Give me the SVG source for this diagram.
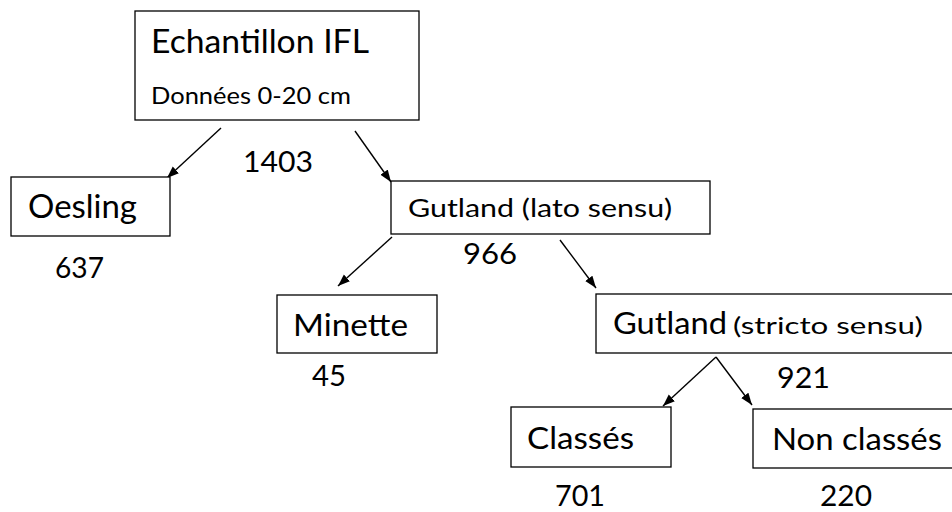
<svg xmlns="http://www.w3.org/2000/svg" width="952" height="512" viewBox="0 0 952 512">
<defs>
<style>
.box{fill:#fff;stroke:#000;stroke-width:1.3}
.t{font-family:Lato,"Open Sans","Liberation Sans",sans-serif;fill:#000}
.edge{stroke:#000;stroke-width:1.4;fill:none;marker-end:url(#ah)}
</style>
<marker id="ah" viewBox="0 0 12 10" refX="12" refY="5" markerWidth="12" markerHeight="10" markerUnits="userSpaceOnUse" orient="auto">
<path d="M0,0.5 L12,5 L0,9.5 z" fill="#000"/>
</marker>
</defs>
<rect width="952" height="512" fill="#fff"/>
<g id="connectors">
<line class="edge" x1="221" y1="128" x2="167" y2="178"/>
<line class="edge" x1="355" y1="131" x2="391" y2="182"/>
<line class="edge" x1="392" y1="237" x2="338" y2="286"/>
<line class="edge" x1="560" y1="240" x2="596" y2="288"/>
<line class="edge" x1="716" y1="357" x2="663" y2="406"/>
<line class="edge" x1="716" y1="357" x2="752" y2="405"/>
</g>
<g id="n_echantillon">
<rect class="box" x="135" y="11" width="284" height="109"/>
<text class="t" x="151" y="53" font-size="33" textLength="218" lengthAdjust="spacingAndGlyphs">Echantillon IFL</text>
<text class="t" x="151" y="104" font-size="23" textLength="200" lengthAdjust="spacingAndGlyphs">Données 0-20 cm</text>
</g>
<text class="t" x="243" y="172" font-size="29" textLength="70" lengthAdjust="spacingAndGlyphs">1403</text>
<g id="n_oesling">
<rect class="box" x="11" y="177" width="159" height="59"/>
<text class="t" x="28" y="218" font-size="32" textLength="109" lengthAdjust="spacingAndGlyphs">Oesling</text>
</g>
<text class="t" x="55" y="278" font-size="29" textLength="49" lengthAdjust="spacingAndGlyphs">637</text>
<g id="n_gutland_lato">
<rect class="box" x="391" y="181" width="319" height="53"/>
<text class="t" x="408" y="217" font-size="25" textLength="264" lengthAdjust="spacingAndGlyphs">Gutland (lato sensu)</text>
</g>
<text class="t" x="463" y="264" font-size="29" textLength="54" lengthAdjust="spacingAndGlyphs">966</text>
<g id="n_minette">
<rect class="box" x="277" y="295" width="160" height="58"/>
<text class="t" x="293" y="336" font-size="31" textLength="115" lengthAdjust="spacingAndGlyphs">Minette</text>
</g>
<text class="t" x="312" y="386" font-size="29" textLength="34" lengthAdjust="spacingAndGlyphs">45</text>
<g id="n_gutland_stricto">
<rect class="box" x="596" y="294" width="370" height="59"/>
<text class="t" x="613" y="334" font-size="30" textLength="114" lengthAdjust="spacingAndGlyphs">Gutland</text>
<text class="t" x="733" y="334" font-size="24" textLength="190" lengthAdjust="spacingAndGlyphs">(stricto sensu)</text>
</g>
<text class="t" x="777" y="388" font-size="29" textLength="53" lengthAdjust="spacingAndGlyphs">921</text>
<g id="n_classes">
<rect class="box" x="511" y="407" width="160" height="60"/>
<text class="t" x="527" y="449" font-size="31" textLength="107" lengthAdjust="spacingAndGlyphs">Classés</text>
</g>
<text class="t" x="555" y="506" font-size="29" textLength="50" lengthAdjust="spacingAndGlyphs">701</text>
<g id="n_non_classes">
<rect class="box" x="753" y="409" width="220" height="59"/>
<text class="t" x="772" y="450" font-size="31" textLength="170" lengthAdjust="spacingAndGlyphs">Non classés</text>
</g>
<text class="t" x="820" y="506" font-size="29" textLength="52" lengthAdjust="spacingAndGlyphs">220</text>
</svg>
